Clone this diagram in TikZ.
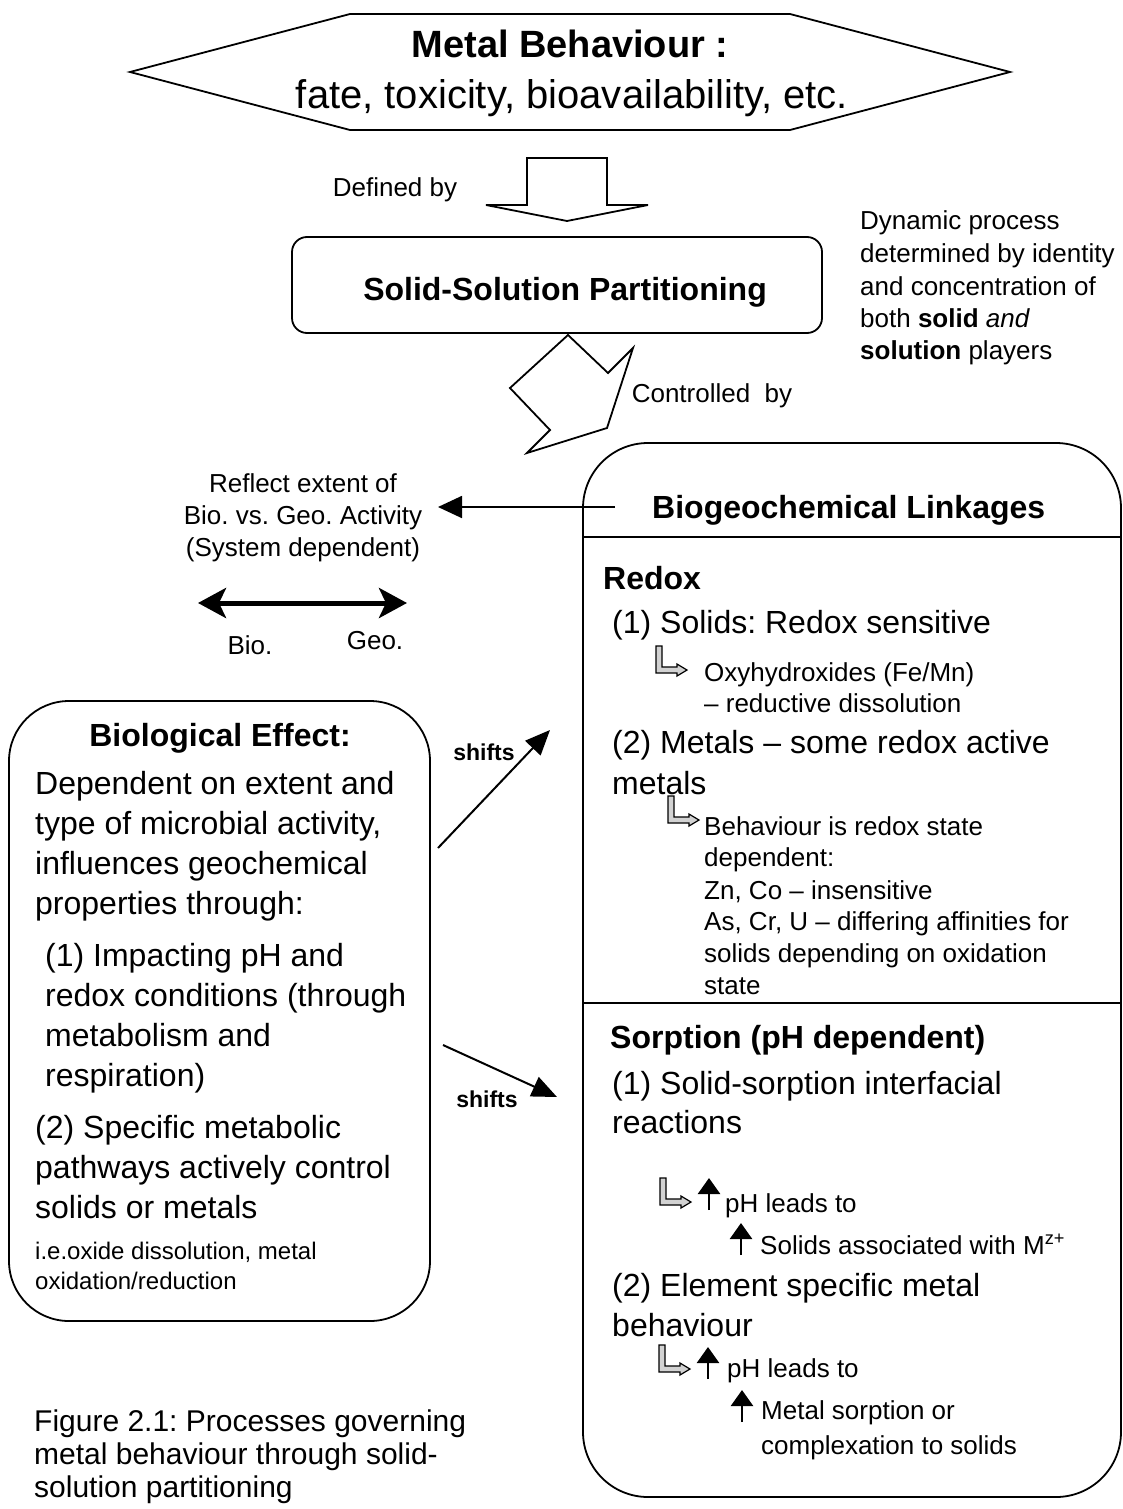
\documentclass[tikz,border=0pt]{standalone}
\usepackage{fontspec}
\setmainfont{Liberation Sans}
\usetikzlibrary{arrows.meta}
\frenchspacing
\begin{document}
\begin{tikzpicture}[x=1pt,y=-1pt,line join=miter]
\tikzset{
  lbl/.style={anchor=base west,inner sep=0pt},
  ctr/.style={anchor=base,inner sep=0pt},
  outl/.style={draw,line width=1.8pt},
  f23b/.style={font=\fontsize{23}{27}\selectfont\bfseries},
  f24/.style={font=\fontsize{24}{29}\selectfont},
  f26/.style={font=\fontsize{26}{31}\selectfont},
  f30/.style={font=\fontsize{30}{34}\selectfont},
  f32/.style={font=\fontsize{32}{38}\selectfont},
  f32b/.style={font=\fontsize{32}{38}\selectfont\bfseries},
  f38b/.style={font=\fontsize{38}{44}\selectfont\bfseries},
  f40/.style={font=\fontsize{40}{46}\selectfont},
  thinarr/.style={line width=2pt,-{Triangle[length=25pt,width=21pt]}},
  bent/.pic={\draw[line width=1.2pt,fill=gray!35] (0,0) -- (6,0) -- (6,21) -- (21,21) -- (21,18) -- (31,24) -- (21,30) -- (21,27) -- (0,27) -- cycle;},
  uparr/.pic={\draw[line width=2.5pt,-{Triangle[length=16pt,width=22pt]}] (0,32) -- (0,0);}
}
\useasboundingbox[fill=white] (0,0) rectangle (1123,1509);

% top hexagon
\draw[outl] (130,72) -- (350,14) -- (790,14) -- (1010,72) -- (790,130) -- (350,130) -- cycle;
\node[ctr,f38b] (title) at (570,58) {Metal Behaviour :};
\node[ctr,f40] (fate) at (572,109) {fate, toxicity, bioavailability, etc.};

% defined by arrow
\draw[outl] (527,158) -- (607,158) -- (607,205) -- (648,205) -- (567,221) -- (486,205) -- (527,205) -- cycle;
\node[ctr,f26] (defby) at (395,196) {Defined by};

% solid-solution box
\node[outl,rounded corners=15pt,minimum width=530pt,minimum height=96pt,inner sep=0pt] (ssp) at (557,285) {};
\node[ctr,f32b] (ssptxt) at (565,300) {Solid-Solution Partitioning};

% dynamic text
\node[lbl,f26] (dyn1) at (860,229) {Dynamic process};
\node[lbl,f26] (dyn2) at (860,262) {determined by identity};
\node[lbl,f26] (dyn3) at (860,295) {and concentration of};
\node[lbl,f26] (dyn4) at (860,327) {both \textbf{solid} \textit{and}};
\node[lbl,f26] (dyn5) at (860,359) {\textbf{solution} players};

% controlled by arrow
\draw[outl] (568,335) -- (608,373) -- (633,348) -- (607,428) -- (527,453) -- (550,430) -- (510,388) -- cycle;
\node[ctr,f26] (ctrl) at (712,402) {Controlled~~by};

% right box
\node[outl,rounded corners=65pt,minimum width=538pt,minimum height=1054pt,inner sep=0pt] (link) at (852,970) {};
\draw[line width=1.8pt] (583,537) -- (1121,537);
\draw[line width=1.8pt] (583,1003) -- (1121,1003);
\node[lbl,f32b] (linktxt) at (652,518) {Biogeochemical Linkages};

% reflect
\node[ctr,f26] (refl1) at (303,492) {Reflect extent of};
\node[ctr,f26] (refl2) at (303,524) {Bio. vs. Geo. Activity};
\node[ctr,f26] (refl3) at (303,556) {(System dependent)};
\coordinate (rstart) at (615,507);
\coordinate (rtip) at (438,507);
\draw[line width=1.8pt,-{Triangle[length=24pt,width=22pt]}] (rstart) -- (rtip);

\coordinate (bioL) at (198,603);
\coordinate (geoR) at (407,603);
\draw[line width=5pt,{Stealth[length=28pt,width=30pt,inset=7pt]}-{Stealth[length=28pt,width=30pt,inset=7pt]}] (bioL) -- (geoR);
\node[ctr,f26] (biot) at (250,654) {Bio.};
\node[ctr,f26] (geot) at (375,649) {Geo.};

% biological box
\node[outl,rounded corners=60pt,minimum width=421pt,minimum height=620pt,inner sep=0pt] (bbox) at (219.5,1011) {};
\node[ctr,f32b] (beh) at (220,746) {Biological Effect:};
\node[lbl,f32] (b1) at (35,794) {Dependent on extent and};
\node[lbl,f32] (b2) at (35,834) {type of microbial activity,};
\node[lbl,f32] (b3) at (35,874) {influences geochemical};
\node[lbl,f32] (b4) at (35,914) {properties through:};
\node[lbl,f32] (b5) at (45,966) {(1) Impacting pH and};
\node[lbl,f32] (b6) at (45,1006) {redox conditions (through};
\node[lbl,f32] (b7) at (45,1046) {metabolism and};
\node[lbl,f32] (b8) at (45,1086) {respiration)};
\node[lbl,f32] (b9) at (35,1138) {(2) Specific metabolic};
\node[lbl,f32] (b10) at (35,1178) {pathways actively control};
\node[lbl,f32] (b11) at (35,1218) {solids or metals};
\node[lbl,f24] (b12) at (35,1259) {i.e.oxide dissolution, metal};
\node[lbl,f24] (b13) at (35,1289) {oxidation/reduction};

% shifts arrows
\coordinate (s1a) at (438,848);
\coordinate (s1b) at (550,730);
\coordinate (s2a) at (443,1045);
\coordinate (s2b) at (557,1097);
\draw[thinarr] (s1a) -- (s1b);
\draw[thinarr] (s2a) -- (s2b);
\node[ctr,f23b] (sh1) at (484,760) {shifts};
\node[ctr,f23b] (sh2) at (487,1107) {shifts};

% redox section
\node[lbl,f32b] (redox) at (603,589) {Redox};
\node[lbl,f32] (r1) at (612,633) {(1) Solids: Redox sensitive};
\pic (i1) at (656,646) {bent};
\node[lbl,f26] (r2) at (704,681) {Oxyhydroxides (Fe/Mn)};
\node[lbl,f26] (r3) at (704,712) {– reductive dissolution};
\node[lbl,f32] (r4) at (612,753) {(2) Metals – some redox active};
\node[lbl,f32] (r5) at (612,794) {metals};
\pic (i2) at (668,796) {bent};
\node[lbl,f26] (r6) at (704,835) {Behaviour is redox state};
\node[lbl,f26] (r7) at (704,866) {dependent:};
\node[lbl,f26] (r8) at (704,899) {Zn, Co – insensitive};
\node[lbl,f26] (r9) at (704,930) {As, Cr, U – differing affinities for};
\node[lbl,f26] (r10) at (704,962) {solids depending on oxidation};
\node[lbl,f26] (r11) at (704,994) {state};

% sorption section
\node[lbl,f32b] (sorp) at (610,1048) {Sorption (pH dependent)};
\node[lbl,f32] (s1) at (612,1094) {(1) Solid-sorption interfacial};
\node[lbl,f32] (s2) at (612,1133) {reactions};
\pic (i3) at (660,1178) {bent};
\pic (u1) at (709,1178) {uparr};
\node[lbl,f26] (s3) at (725,1212) {pH leads to};
\pic (u2) at (741,1223) {uparr};
\node[lbl,f26] (s4) at (760,1254) {Solids associated with M\textsuperscript{z+}};
\node[lbl,f32] (s5) at (612,1296) {(2) Element specific metal};
\node[lbl,f32] (s6) at (612,1336) {behaviour};
\pic (i4) at (659,1345) {bent};
\pic (u3) at (708,1347) {uparr};
\node[lbl,f26] (s7) at (727,1377) {pH leads to};
\pic (u4) at (742,1390) {uparr};
\node[lbl,f26] (s8) at (761,1419) {Metal sorption or};
\node[lbl,f26] (s9) at (761,1454) {complexation to solids};

% caption
\node[lbl,f30] (c1) at (34,1431) {Figure 2.1: Processes governing};
\node[lbl,f30] (c2) at (34,1464) {metal behaviour through solid-};
\node[lbl,f30] (c3) at (34,1497) {solution partitioning};
\end{tikzpicture}
\end{document}
